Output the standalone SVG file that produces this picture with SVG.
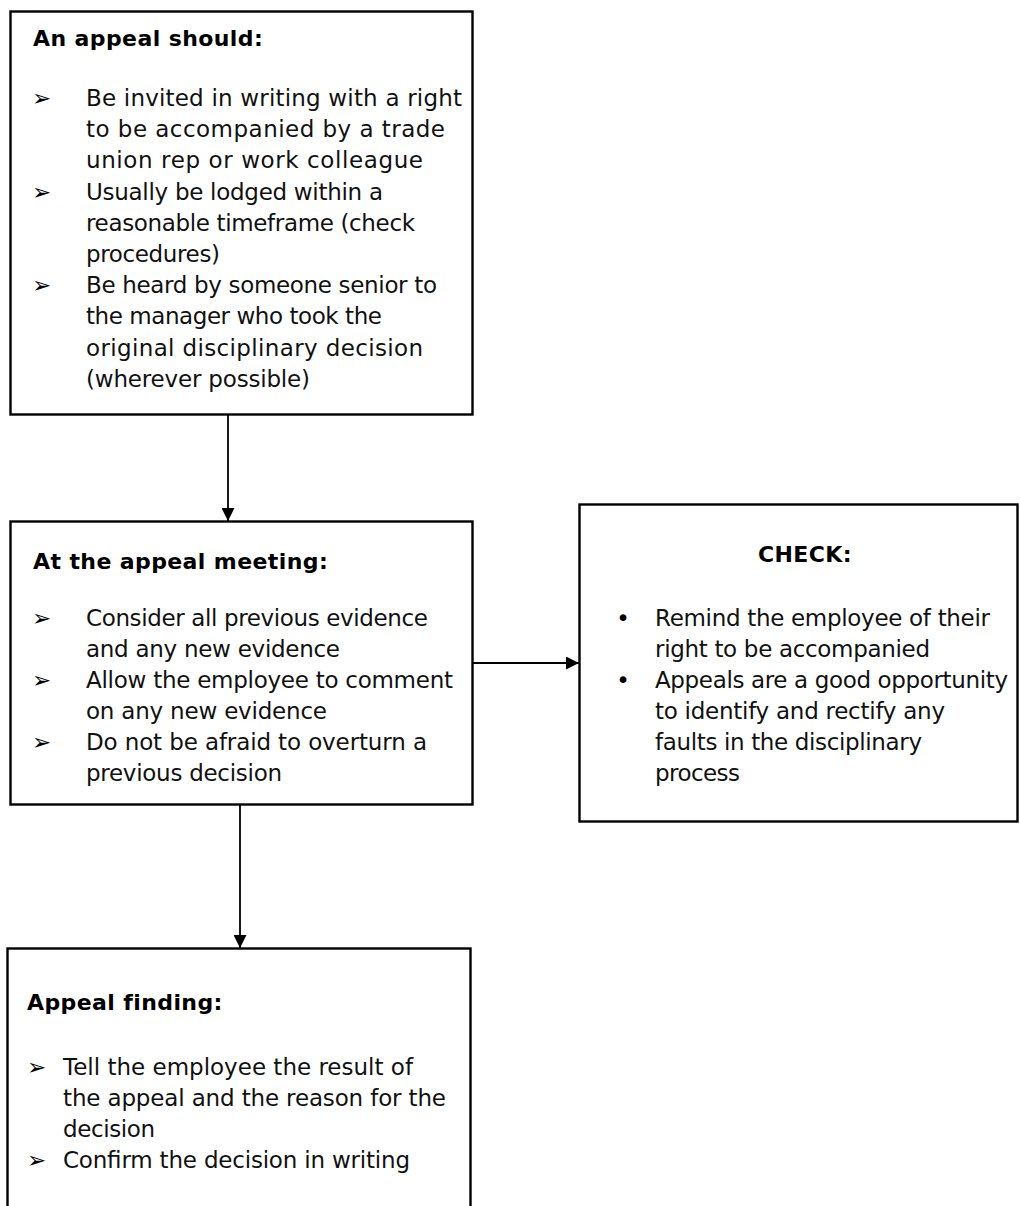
<svg xmlns="http://www.w3.org/2000/svg" width="1020" height="1206" viewBox="0 0 1020 1206">
<style>
.box{fill:#fff;stroke:#000;stroke-width:2.4}
.h{font-family:"DejaVu Sans",Verdana,sans-serif;font-weight:bold;font-size:22px;letter-spacing:0.4px;fill:#000}
.t{font-family:"DejaVu Sans",Verdana,sans-serif;font-size:23px;fill:#111}
.b{font-family:"DejaVu Sans",sans-serif;font-size:23px;fill:#000}
.d{font-family:"DejaVu Sans",sans-serif;font-size:23px;fill:#000}
.c{stroke:#000;stroke-width:1.8;fill:none}
</style>
<defs>
<marker id="ah" viewBox="0 0 10 10" refX="10" refY="5" markerWidth="13" markerHeight="13" markerUnits="userSpaceOnUse" orient="auto">
<path d="M0,0 L10,5 L0,10 Z" fill="#000"/>
</marker>
</defs>
<rect width="1020" height="1206" fill="#fff"/>
<g id="connectors">
<line class="c" x1="228" y1="414" x2="228" y2="521" marker-end="url(#ah)"/>
<line class="c" x1="240" y1="805" x2="240" y2="948" marker-end="url(#ah)"/>
<line class="c" x1="473" y1="663" x2="579" y2="663" marker-end="url(#ah)"/>
</g>
<g id="node-appeal-should">
<rect class="box" x="10.5" y="11.5" width="462" height="403"/>
<text class="h" x="33" y="46">An appeal should:</text>
<text class="b" x="32" y="106">➢</text>
<text class="t" x="86" y="106" textLength="376" lengthAdjust="spacing">Be invited in writing with a right</text>
<text class="t" x="86" y="137.2" textLength="359" lengthAdjust="spacing">to be accompanied by a trade</text>
<text class="t" x="86" y="168.4" textLength="337" lengthAdjust="spacing">union rep or work colleague</text>
<text class="b" x="32" y="199.6">➢</text>
<text class="t" x="86" y="199.6" textLength="297" lengthAdjust="spacing">Usually be lodged within a</text>
<text class="t" x="86" y="230.8" textLength="329" lengthAdjust="spacing">reasonable timeframe (check</text>
<text class="t" x="86" y="262" textLength="134" lengthAdjust="spacing">procedures)</text>
<text class="b" x="32" y="293.2">➢</text>
<text class="t" x="86" y="293.2" textLength="351" lengthAdjust="spacing">Be heard by someone senior to</text>
<text class="t" x="86" y="324.4" textLength="296" lengthAdjust="spacing">the manager who took the</text>
<text class="t" x="86" y="355.6" textLength="337" lengthAdjust="spacing">original disciplinary decision</text>
<text class="t" x="86" y="386.8" textLength="224" lengthAdjust="spacing">(wherever possible)</text>
</g>
<g id="node-appeal-meeting">
<rect class="box" x="10.5" y="521.5" width="462" height="283"/>
<text class="h" x="33" y="569">At the appeal meeting:</text>
<text class="b" x="32" y="626">➢</text>
<text class="t" x="86" y="626" textLength="342" lengthAdjust="spacing">Consider all previous evidence</text>
<text class="t" x="86" y="657" textLength="254" lengthAdjust="spacing">and any new evidence</text>
<text class="b" x="32" y="688">➢</text>
<text class="t" x="86" y="688" textLength="367" lengthAdjust="spacing">Allow the employee to comment</text>
<text class="t" x="86" y="719" textLength="241" lengthAdjust="spacing">on any new evidence</text>
<text class="b" x="32" y="750">➢</text>
<text class="t" x="86" y="750" textLength="341" lengthAdjust="spacing">Do not be afraid to overturn a</text>
<text class="t" x="86" y="781" textLength="196" lengthAdjust="spacing">previous decision</text>
</g>
<g id="node-check">
<rect class="box" x="579.5" y="504.5" width="438" height="317"/>
<text class="h" x="758" y="562">CHECK:</text>
<text class="d" x="623" y="626" text-anchor="middle">•</text>
<text class="t" x="655" y="626" textLength="335" lengthAdjust="spacing">Remind the employee of their</text>
<text class="t" x="655" y="657" textLength="275" lengthAdjust="spacing">right to be accompanied</text>
<text class="d" x="623" y="688" text-anchor="middle">•</text>
<text class="t" x="655" y="688" textLength="353" lengthAdjust="spacing">Appeals are a good opportunity</text>
<text class="t" x="655" y="719" textLength="290" lengthAdjust="spacing">to identify and rectify any</text>
<text class="t" x="655" y="750" textLength="267" lengthAdjust="spacing">faults in the disciplinary</text>
<text class="t" x="655" y="781" textLength="85" lengthAdjust="spacing">process</text>
</g>
<g id="node-appeal-finding">
<rect class="box" x="7.5" y="948.5" width="463" height="270"/>
<text class="h" x="27" y="1010">Appeal finding:</text>
<text class="b" x="27" y="1075">➢</text>
<text class="t" x="63" y="1075" textLength="350" lengthAdjust="spacing">Tell the employee the result of</text>
<text class="t" x="63" y="1106" textLength="383" lengthAdjust="spacing">the appeal and the reason for the</text>
<text class="t" x="63" y="1137" textLength="92" lengthAdjust="spacing">decision</text>
<text class="b" x="27" y="1168">➢</text>
<text class="t" x="63" y="1168" textLength="347" lengthAdjust="spacing">Confirm the decision in writing</text>
</g>
</svg>
